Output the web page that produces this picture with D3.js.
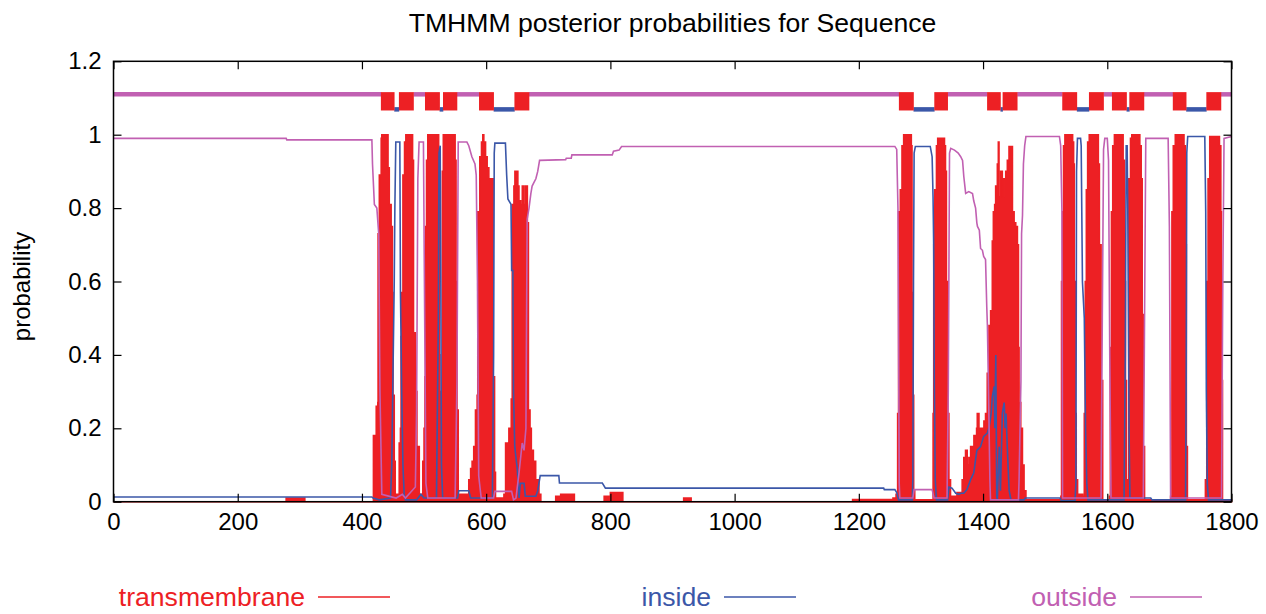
<!DOCTYPE html>
<html>
<head>
<meta charset="utf-8">
<script src="https://cdn.jsdelivr.net/npm/d3@7"></script>
<style>
  body { margin: 0; background: #fff; }
  svg { display: block; font-family: "Liberation Sans", Arial, sans-serif; }
</style>
</head>
<body>
<div id="app"></div>
<script>
const xTicks = [0, 200, 400, 600, 800, 1000, 1200, 1400, 1600, 1800];
const yTicks = [0, 0.2, 0.4, 0.6, 0.8, 1, 1.2];
const seqLength = 1800;
const seriesNames = ['transmembrane', 'inside', 'outside'];

// predicted topology (top band): [label, start, end]
const topology = [
  ['outside', 1, 430], ['TMhelix', 431, 452], ['inside', 453, 459], ['TMhelix', 460, 483],
  ['outside', 484, 501], ['TMhelix', 502, 525], ['inside', 526, 530], ['TMhelix', 531, 553],
  ['outside', 554, 588], ['TMhelix', 589, 612], ['inside', 613, 645], ['TMhelix', 646, 669],
  ['outside', 670, 1264], ['TMhelix', 1265, 1288], ['inside', 1289, 1321], ['TMhelix', 1322, 1343],
  ['outside', 1344, 1406], ['TMhelix', 1407, 1428], ['inside', 1429, 1431], ['TMhelix', 1432, 1455],
  ['outside', 1456, 1527], ['TMhelix', 1528, 1551], ['inside', 1552, 1570], ['TMhelix', 1571, 1594],
  ['outside', 1595, 1607], ['TMhelix', 1608, 1631], ['inside', 1632, 1635], ['TMhelix', 1636, 1659],
  ['outside', 1660, 1705], ['TMhelix', 1706, 1727], ['inside', 1728, 1759], ['TMhelix', 1760, 1783],
  ['outside', 1784, 1800]
];

// posterior probabilities: [position, probability]
const transmembrane = [
  [0, 0], [276, 0], [278, 0.01], [306, 0.01], [308, 0], [417, 0], [418.5, 0.18], [422, 0.18], [423, 0.26],
  [425.5, 0.27], [426, 0.73], [428, 0.89], [431, 0.99], [432, 1.0], [440, 1.0], [442, 0.91], [444, 0.81],
  [447, 0.75], [449, 0.57], [450, 0.29], [452, 0.11], [453.5, 0.02], [458, 0.02], [460, 0.16], [462, 0.2],
  [463, 0.45], [464, 0.57], [466, 0.89], [468.6, 0.98], [470.7, 1.0], [479.3, 1.0], [481.5, 0.93], [483, 0.46],
  [486, 0.3], [488.5, 0.15], [492.3, 0.02], [496, 0.02], [498, 0.11], [500, 0.2], [501.5, 0.34], [502.5, 0.75],
  [504, 0.93], [506, 1.0], [522, 1.0], [523.5, 0.9], [524.5, 0.4], [525.5, 0.05], [527, 0.05], [528, 0.3],
  [529.5, 0.9], [531, 1.0], [548, 1.0], [550, 0.93], [551.5, 0.6], [553, 0.25], [555, 0.02], [570, 0.01],
  [572, 0.06], [575, 0.09], [577.4, 0.11], [580, 0.15], [582.8, 0.25], [585.5, 0.29], [586.5, 0.79],
  [589.8, 0.94], [592.5, 0.98], [594.6, 1.0], [596.2, 0.98], [599, 0.94], [601.6, 0.91], [604.3, 0.88],
  [609.7, 0.88], [611.3, 0.34], [613.5, 0.08], [615, 0.01], [628.6, 0.02], [631.3, 0.16], [636.6, 0.2],
  [640.4, 0.28], [642, 0.81], [644.7, 0.86], [646.3, 0.9], [649, 0.9], [651, 0.86], [652.8, 0.82],
  [655.5, 0.81], [658.2, 0.86], [660.9, 0.81], [663.6, 0.86], [666.3, 0.76], [668, 0.25], [670.6, 0.2],
  [672.7, 0.14], [676, 0.11], [679.7, 0.06], [685, 0.02], [688, 0], [709, 0], [712, 0.015], [720, 0.02],
  [735, 0.02], [742, 0], [785, 0], [790, 0.015], [800, 0.025], [810, 0.025], [820, 0], [916, 0], [918, 0.01],
  [928, 0.01], [930, 0], [1186, 0], [1190, 0.006], [1255, 0.01], [1260, 0.02], [1262.5, 0.24], [1264, 0.79],
  [1266.8, 0.85], [1269.5, 0.97], [1272.2, 1.0], [1283, 1.0], [1284.5, 0.97], [1285.6, 0.57], [1287.3, 0.29],
  [1288.3, 0.03], [1290, 0.005], [1318, 0.005], [1319.6, 0.24], [1320.6, 0.7], [1322.3, 0.85], [1325, 0.97],
  [1327, 0.99], [1335.7, 0.99], [1337.9, 0.97], [1339.5, 0.9], [1341, 0.6], [1343.3, 0.24], [1345, 0.06],
  [1347.6, 0.015], [1358, 0.025], [1366.4, 0.06], [1369, 0.12], [1371.8, 0.14], [1374.5, 0.1], [1377.2, 0.12],
  [1380, 0.15], [1385.3, 0.18], [1389.6, 0.2], [1390.7, 0.24], [1393.4, 0.187], [1396, 0.2], [1401.4, 0.22],
  [1404, 0.24], [1406.8, 0.35], [1409.5, 0.48], [1412.2, 0.52], [1414.9, 0.71], [1416.6, 0.79], [1418.7, 0.81],
  [1420.3, 0.86], [1423, 0.92], [1424.6, 0.98], [1425.7, 0.83], [1428.4, 0.9], [1431, 0.88], [1432.5, 0.83],
  [1433.8, 0.88], [1436.5, 0.9], [1439.1, 0.93], [1441.8, 0.968], [1443.5, 0.94], [1445.6, 0.968],
  [1447.3, 0.79], [1450, 0.76], [1452.6, 0.75], [1455.3, 0.7], [1457, 0.42], [1458, 0.27], [1460.7, 0.2],
  [1463.4, 0.1], [1466, 0.03], [1469, 0.005], [1524, 0.005], [1525.3, 0.015], [1526.4, 0.6], [1528, 0.79],
  [1529.6, 0.97], [1531.8, 1.0], [1542.6, 1.0], [1544.2, 0.98], [1545.8, 0.92], [1546.9, 0.6], [1548.5, 0.24],
  [1550, 0.06], [1552.2, 0.02], [1556, 0.02], [1560.3, 0.015], [1563, 0.24], [1564.6, 0.6], [1566.3, 0.85],
  [1568.4, 0.98], [1571, 1.0], [1583.5, 1.0], [1585.6, 0.92], [1587.3, 0.7], [1590, 0.33], [1592.6, 0.005],
  [1603.4, 0.015], [1605, 0.42], [1606.7, 0.79], [1608.8, 0.97], [1611.5, 1.0], [1623.3, 1.0], [1625.5, 0.93],
  [1627.7, 0.6], [1629.3, 0.33], [1630.9, 0.015], [1633, 0.06], [1634.7, 0.88], [1637.4, 0.99], [1639.5, 1.0],
  [1650.3, 1.0], [1652.4, 0.97], [1654.6, 0.88], [1656.2, 0.51], [1657.8, 0.15], [1660, 0.005], [1702, 0.015],
  [1704.1, 0.79], [1706.3, 0.97], [1709.5, 1.0], [1721.9, 1.0], [1723.5, 0.97], [1725.7, 0.7], [1727.3, 0.15],
  [1729, 0.005], [1758, 0.06], [1760.2, 0.6], [1762.3, 0.88], [1765, 0.995], [1778.5, 0.995], [1780.6, 0.97],
  [1782.8, 0.79], [1783.8, 0.33], [1785.5, 0.005], [1800, 0]
];

const inside = [
  [0, 0.013], [416, 0.013], [418, 0.01], [428, 0.005], [446, 0.01], [448, 0.1], [450, 0.35], [452, 0.6],
  [453, 0.8], [454.5, 0.98], [461, 0.98], [462, 0.57], [464, 0.3], [466, 0.1], [468, 0.02], [470, 0.005],
  [488, 0.005], [495, 0.02], [500, 0.01], [520, 0.01], [523, 0.5], [524, 0.95], [526, 0.97], [527, 0.6],
  [528, 0.1], [530, 0.01], [554, 0.01], [556, 0.03], [572, 0.03], [575, 0.01], [610, 0.01], [612, 0.4],
  [613, 0.95], [614, 0.977], [631, 0.977], [633, 0.89], [635, 0.825], [640, 0.81], [641, 0.63], [643, 0.63],
  [644, 0.3], [646, 0.15], [650, 0.09], [653, 0.01], [655, 0.05], [661, 0.05], [663, 0.015], [680, 0.015],
  [683, 0.03], [687, 0.071], [717, 0.071], [718, 0.051], [787, 0.051], [792, 0.037], [1240, 0.037],
  [1241, 0.033], [1258, 0.033], [1261, 0.025], [1264, 0.005], [1286, 0.005], [1287, 0.06], [1288, 0.6],
  [1289, 0.95], [1291, 0.968], [1315, 0.968], [1318, 0.94], [1319.5, 0.83], [1320.5, 0.7], [1321.5, 0.33],
  [1323, 0.06], [1325, 0.005], [1343, 0.005], [1345, 0.04], [1350, 0.037], [1356, 0.023], [1361, 0.02],
  [1364, 0.023], [1369, 0.023], [1374, 0.033], [1380, 0.06], [1385, 0.078], [1390, 0.14], [1396, 0.15],
  [1401, 0.178], [1407, 0.187], [1410, 0.205], [1413, 0.24], [1415, 0.287], [1418, 0.314], [1419, 0.2],
  [1420.5, 0.4], [1422, 0.015], [1423, 0.005], [1426, 0.15], [1428, 0.03], [1431, 0.24], [1434, 0.27],
  [1435.5, 0.2], [1437, 0.24], [1439, 0.15], [1442, 0.03], [1445, 0.005], [1466, 0.005], [1468, 0.01],
  [1524, 0.01], [1526, 0.003], [1548, 0.003], [1549.5, 0.05], [1550.5, 0.9], [1552, 0.99], [1557, 0.99],
  [1558, 0.97], [1560, 0.6], [1563, 0.5], [1565, 0.2], [1567, 0.05], [1569, 0.005], [1627, 0.005],
  [1629, 0.4], [1630.5, 0.97], [1632, 0.97], [1633, 0.8], [1635, 0.2], [1636.5, 0.01], [1670, 0.01],
  [1672, 0.005], [1726, 0.005], [1727, 0.3], [1728, 0.95], [1729.5, 0.995], [1757, 0.995], [1758.5, 0.79],
  [1759.5, 0.3], [1761, 0.05], [1763, 0.005], [1800, 0.005]
];

const outside = [
  [0, 0.99], [278, 0.99], [279, 0.986], [416, 0.986], [417, 0.92], [420, 0.81], [424, 0.8], [427, 0.73],
  [429, 0.3], [432, 0.02], [455, 0.01], [460, 0.015], [465, 0.02], [470, 0.01], [486, 0.04], [488, 0.25],
  [490, 0.88], [492, 0.98], [499, 0.98], [501, 0.5], [503, 0.05], [506, 0.01], [550, 0.01], [553, 0.33],
  [555, 0.98], [569, 0.98], [572, 0.97], [577, 0.94], [582, 0.92], [584, 0.89], [586, 0.6], [588, 0.07],
  [592, 0.01], [612, 0.01], [614, 0.028], [641, 0.028], [644, 0.005], [648, 0.01], [653, 0.08], [658, 0.16],
  [661, 0.14], [664, 0.2], [666, 0.77], [669, 0.8], [672, 0.84], [674, 0.86], [677, 0.87], [680, 0.88],
  [683, 0.9], [686, 0.93], [728, 0.932], [729, 0.936], [737, 0.936], [738, 0.945], [803, 0.945],
  [805, 0.955], [814, 0.958], [818, 0.968], [1258, 0.968], [1261, 0.96], [1263, 0.8], [1265, 0.05],
  [1266, 0.01], [1287, 0.01], [1289, 0.033], [1318, 0.033], [1321, 0.01], [1342, 0.01], [1344, 0.3],
  [1346, 0.95], [1348, 0.963], [1354, 0.958], [1360, 0.95], [1364, 0.94], [1367, 0.93], [1369, 0.886],
  [1372, 0.84], [1377, 0.845], [1383, 0.84], [1385, 0.82], [1388, 0.8], [1390, 0.76], [1391, 0.75],
  [1394, 0.74], [1396, 0.69], [1399, 0.685], [1401, 0.668], [1404, 0.66], [1406, 0.53], [1407, 0.48],
  [1408.5, 0.33], [1411, 0.06], [1412, 0.005], [1457, 0.005], [1458, 0.06], [1461, 0.33], [1462, 0.73],
  [1463.5, 0.78], [1465, 0.92], [1467, 0.97], [1469, 0.995], [1523, 0.995], [1525, 0.97], [1527, 0.79],
  [1528, 0.01], [1590, 0.01], [1592, 0.5], [1594, 0.96], [1596, 0.99], [1600, 0.99], [1602, 0.93],
  [1604, 0.4], [1606, 0.01], [1658, 0.01], [1660, 0.5], [1662, 0.99], [1698, 0.99], [1700, 0.75],
  [1702, 0.01], [1784, 0.01], [1786, 0.6], [1788, 0.99], [1800, 0.995]
];

const colors = { transmembrane: '#ed2024', inside: '#3b57a8', outside: '#c160b2' };

const render = () => {
  const width = 1266, height = 614;
  const plot = { left: 113.5, right: 1231.5, top: 61.3, bottom: 501.7 };

  const x = d3.scaleLinear().domain([0, seqLength]).range([plot.left, plot.right]);
  const y = d3.scaleLinear().domain([0, 1.2]).range([plot.bottom, plot.top]);

  const svg = d3.select('#app').append('svg')
    .attr('width', width).attr('height', height);

  svg.append('text')
    .attr('x', (plot.left + plot.right) / 2).attr('y', 32)
    .attr('text-anchor', 'middle').attr('font-size', 26.6)
    .text('TMHMM posterior probabilities for Sequence');

  // transmembrane drawn as filled impulses (stroke gives the impulse width)
  const area = d3.area().curve(d3.curveStepAfter)
    .x(d => x(d[0])).y0(y(0)).y1(d => y(d[1]));
  svg.append('path').datum(transmembrane)
    .attr('fill', colors.transmembrane)
    .attr('stroke', colors.transmembrane).attr('stroke-width', 1.6)
    .attr('d', area);

  const line = d3.line().x(d => x(d[0])).y(d => y(d[1]));
  svg.append('path').datum(inside)
    .attr('fill', 'none').attr('stroke', colors.inside).attr('stroke-width', 1.6).attr('d', line);
  svg.append('path').datum(outside)
    .attr('fill', 'none').attr('stroke', colors.outside).attr('stroke-width', 1.6).attr('d', line);

  // topology band
  const band = svg.append('g');
  topology.filter(d => d[0] !== 'TMhelix').forEach(d => {
    const level = d[0] === 'outside' ? 1.11 : 1.069;
    band.append('line')
      .attr('x1', x(Math.max(0, d[1] - 1))).attr('x2', x(Math.min(seqLength, d[2] + 1)))
      .attr('y1', y(level)).attr('y2', y(level))
      .attr('stroke', colors[d[0]]).attr('stroke-width', 4.5);
  });
  topology.filter(d => d[0] === 'TMhelix').forEach(d => {
    band.append('rect')
      .attr('x', x(d[1] - 0.5)).attr('width', x(d[2] + 0.5) - x(d[1] - 0.5))
      .attr('y', y(1.116)).attr('height', y(1.066) - y(1.116))
      .attr('fill', colors.transmembrane);
  });

  // axes, ticks inward and mirrored like gnuplot
  const fmt = d => d3.format('')(d);
  svg.append('g').attr('transform', `translate(0,${plot.bottom})`)
    .call(d3.axisBottom(x).tickValues(xTicks).tickSizeInner(-8).tickSizeOuter(0).tickPadding(11).tickFormat(fmt))
    .call(g => g.select('.domain').remove());
  svg.append('g').attr('transform', `translate(0,${plot.top})`)
    .call(d3.axisTop(x).tickValues(xTicks).tickSizeInner(-8).tickSizeOuter(0).tickFormat(''))
    .call(g => g.select('.domain').remove());
  svg.append('g').attr('transform', `translate(${plot.left},0)`)
    .call(d3.axisLeft(y).tickValues(yTicks).tickSizeInner(-8).tickSizeOuter(0).tickPadding(12).tickFormat(fmt))
    .call(g => g.select('.domain').remove());
  svg.append('g').attr('transform', `translate(${plot.right},0)`)
    .call(d3.axisRight(y).tickValues(yTicks).tickSizeInner(-8).tickSizeOuter(0).tickFormat(''))
    .call(g => g.select('.domain').remove());
  svg.selectAll('.tick text').attr('font-size', 24).attr('font-family', '"Liberation Sans", Arial, sans-serif').attr('fill', '#000');
  svg.selectAll('.tick line').attr('stroke', '#000').attr('stroke-width', 1.2);

  svg.append('rect')
    .attr('x', plot.left).attr('y', plot.top)
    .attr('width', plot.right - plot.left).attr('height', plot.bottom - plot.top)
    .attr('fill', 'none').attr('stroke', '#000').attr('stroke-width', 1.5);

  svg.append('text')
    .attr('transform', `translate(30,${(plot.top + plot.bottom) / 2 + 5}) rotate(-90)`)
    .attr('text-anchor', 'middle').attr('font-size', 24)
    .text('probability');

  // legend: label then line sample, gnuplot key style
  const legend = svg.append('g');
  seriesNames.forEach((name, i) => {
    const sampleEnd = 390 + i * 406;
    legend.append('text')
      .attr('x', sampleEnd - 85).attr('y', 606)
      .attr('text-anchor', 'end').attr('font-size', 26.6)
      .attr('fill', colors[name]).text(name);
    legend.append('line')
      .attr('x1', sampleEnd - 72).attr('x2', sampleEnd)
      .attr('y1', 597).attr('y2', 597)
      .attr('stroke', colors[name]).attr('stroke-width', 1.6);
  });
};
render();
</script>
</body>
</html>
